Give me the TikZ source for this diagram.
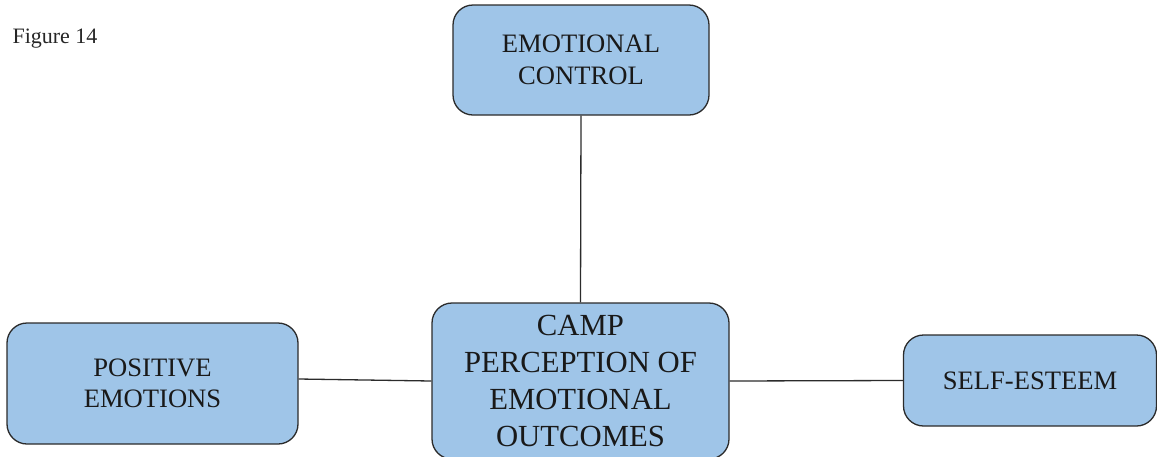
\documentclass[tikz,border=0pt]{standalone}
\usepackage{fontspec}
\setmainfont{Liberation Serif}
\definecolor{boxfill}{HTML}{9FC5E8}
\definecolor{boxline}{HTML}{2B2B2B}
\begin{document}
\begin{tikzpicture}[x=1pt,y=-1pt,
  conceptbox/.style={draw=boxline,line width=1.3pt,fill=boxfill,rounded corners=20pt,
    align=center,inner sep=0pt,font=\fontsize{26.6}{31.5}\selectfont,text=black!90},
  link/.style={draw=boxline,line width=1.3pt}]
\useasboundingbox (0,0) rectangle (1157,456);
\begin{scope}
\clip (0,0) rectangle (1157,456);
\node[anchor=base west,font=\fontsize{22}{26}\selectfont,text=black!85] (fig) at (9,43) {Figure 14};
\node[conceptbox,minimum width=256pt,minimum height=110pt] (ec) at (581,60) {EMOTIONAL\\CONTROL};
\node[conceptbox,minimum width=291pt,minimum height=121pt] (pe) at (152.5,383.5) {POSITIVE\\EMOTIONS};
\node[conceptbox,minimum width=297pt,minimum height=156pt,font=\fontsize{30.7}{37}\selectfont] (cp) at (580.5,381) {CAMP\\PERCEPTION OF\\EMOTIONAL\\OUTCOMES};
\node[conceptbox,minimum width=253pt,minimum height=91pt] (se) at (1030,380.5) {SELF-ESTEEM};
\draw[link] (ec.south) -- (cp.north);
\draw[link] ([yshift=4.5pt]pe.east) -- (cp.west);
\draw[link] (cp.east) -- (se.west);
\end{scope}
\end{tikzpicture}
\end{document}
